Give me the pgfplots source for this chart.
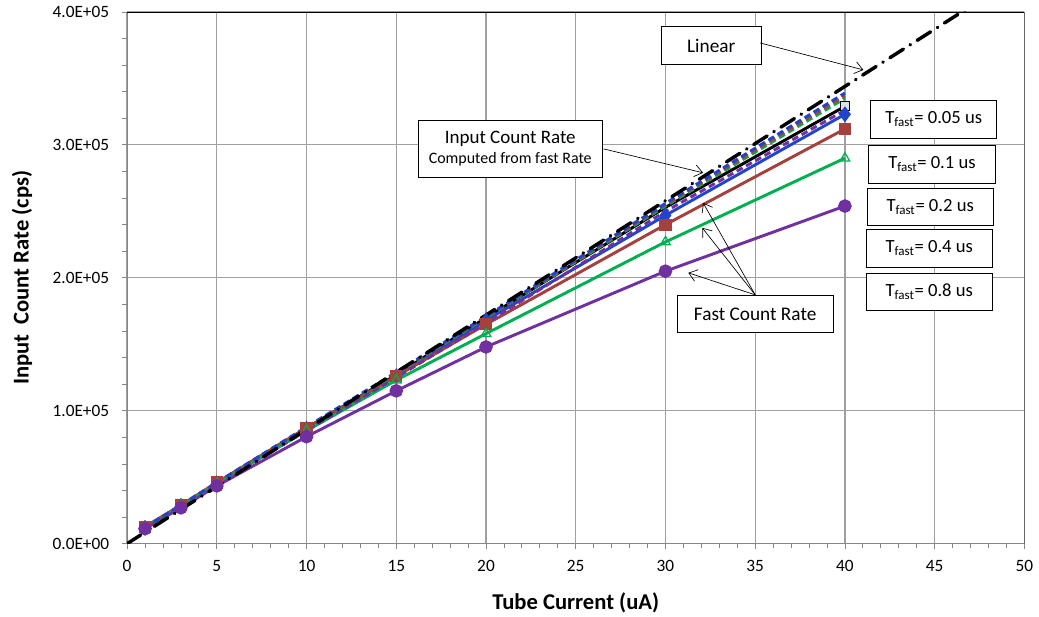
\documentclass[border=0pt]{standalone}
\usepackage{pgfplots}
\pgfplotsset{compat=1.18}
\usepackage{fontspec}
\setmainfont{Carlito}
\usetikzlibrary{arrows.meta}
\definecolor{cblue}{RGB}{34,68,204}
\definecolor{cbrown}{RGB}{165,65,60}
\definecolor{cgreen}{RGB}{0,176,80}
\definecolor{cpurple}{RGB}{112,48,160}
\definecolor{axgray}{RGB}{134,134,134}
\definecolor{grdgray}{RGB}{160,160,160}
\begin{document}
\begin{tikzpicture}
\begin{axis}[
  scale only axis, width=675pt, height=400pt,
  xmin=0, xmax=50, ymin=0, ymax=400000,
  axis lines*=left,
  axis line style={axgray, line width=0.8pt},
  xtick={0,5,...,50},
  xticklabels={0,5,10,15,20,25,30,35,40,45,50},
  ytick={0,100000,200000,300000,400000},
  yticklabels={0.0E+00,1.0E+05,2.0E+05,3.0E+05,4.0E+05},
  scaled y ticks=false,
  minor x tick num=4, minor y tick num=4,
  tick align=outside,
  major tick length=4pt, minor tick length=3.5pt,
  every tick/.style={axgray, line width=0.6pt},
  grid=major,
  major grid style={grdgray, line width=0.9pt},
  tick label style={font=\fontsize{13}{15}\selectfont, text=black},
  xticklabel style={yshift=-5pt},
  yticklabel style={xshift=-6pt},
]
% frame top and right
\draw[black, line width=0.6pt] (rel axis cs:0,1) -- (rel axis cs:1,1) -- (rel axis cs:1,0);

% Fast count rates (solid)
\addplot[black, line width=2.2pt, mark=square*, mark size=3.3pt, mark indices={8},
  mark options={fill=gray!25, draw=black, line width=0.8pt}] coordinates {
  (1,12000) (3,28500) (5,45500) (10,87000) (15,127000) (20,170000) (30,253000) (40,329000)};
\addplot[cblue, line width=2.2pt, mark=diamond*, mark size=4.2pt] coordinates {
  (1,12000) (3,28500) (5,45500) (10,86500) (15,126000) (20,168000) (30,247000) (40,323000)};
\addplot[cbrown, line width=2.2pt, mark=square*, mark size=3.5pt] coordinates {
  (1,12800) (3,29000) (5,46000) (10,87200) (15,126000) (20,165000) (30,240000) (40,312000)};
\addplot[cgreen, line width=2.2pt, mark=triangle, mark size=4.2pt,
  mark options={fill=white, line width=0.9pt}] coordinates {
  (1,11500) (3,28000) (5,45000) (10,85000) (15,123000) (20,158000) (30,227000) (40,290000)};
\addplot[cpurple, line width=2.2pt, mark=*, mark size=4pt] coordinates {
  (1,11300) (3,27000) (5,43500) (10,80500) (15,115000) (20,148000) (30,205000) (40,254000)};

% Input count rate computed from fast rate (dashed)
\addplot[cpurple, line width=2.2pt, dash pattern=on 5pt off 3pt] coordinates {
  (1,11500) (3,28000) (5,45000) (10,85000) (15,125000) (20,166000) (30,250000) (40,326000)};
\addplot[cgreen, line width=2.2pt, dash pattern=on 5pt off 3pt] coordinates {
  (1,12000) (3,28500) (5,45500) (10,87000) (15,128000) (20,170000) (30,254000) (40,335000)};
\addplot[cbrown, line width=2.2pt, dash pattern=on 5pt off 3pt] coordinates {
  (1,12500) (3,29000) (5,46000) (10,87500) (15,128500) (20,170500) (30,255000) (40,337000)};
\addplot[cblue, line width=2.2pt, dash pattern=on 5pt off 3pt] coordinates {
  (1,12200) (3,29000) (5,46000) (10,87800) (15,129000) (20,171000) (30,256000) (40,339000)};

% Linear
\addplot[black, line width=2.6pt, line cap=round, dash pattern=on 12pt off 6pt on 0.3pt off 6pt] coordinates {
  (0,0) (50,430000)};

% Annotations
\node[draw=black, fill=white, line width=0.6pt, minimum width=75pt, minimum height=28pt,
  font=\fontsize{14.5}{17}\selectfont] at (axis cs:32.55,374800) {Linear};
\draw[line width=0.5pt, -{Straight Barb[length=6pt,width=9pt]}] (axis cs:35.28,376700) -- (axis cs:41.03,356400);

\node[draw=black, fill=white, line width=0.6pt, minimum width=138pt, minimum height=43.5pt,
  align=center, font=\fontsize{14.3}{16}\selectfont] at (axis cs:21.35,297000)
  {Input Count Rate\\[-1pt]{\fontsize{12}{14}\selectfont Computed from fast Rate}};
\draw[line width=0.5pt, -{Straight Barb[length=6pt,width=9pt]}] (axis cs:26.55,297000) -- (axis cs:32.1,279000);

\node[draw=black, fill=white, line width=0.6pt, minimum width=117pt, minimum height=28pt,
  font=\fontsize{14.5}{17}\selectfont] at (axis cs:35.0,172600) {Fast Count Rate};
\draw[line width=0.5pt, -{Straight Barb[length=6pt,width=9pt]}] (axis cs:35.0,187200) -- (axis cs:32.1,256400);
\draw[line width=0.5pt, -{Straight Barb[length=6pt,width=9pt]}] (axis cs:35.0,187200) -- (axis cs:32.05,237600);
\draw[line width=0.5pt, -{Straight Barb[length=6pt,width=9pt]}] (axis cs:35.0,187200) -- (axis cs:31.27,203800);

\tikzset{tbox/.style={draw=black, fill=white, line width=0.6pt, minimum width=95pt,
  minimum height=28pt, font=\fontsize{14}{16}\selectfont}}
\node[tbox] at (axis cs:44.95,319200) {T\textsubscript{fast}= 0.05 us};
\node[tbox] at (axis cs:44.85,285300) {T\textsubscript{fast}= 0.1 us};
\node[tbox] at (axis cs:44.75,253400) {T\textsubscript{fast}= 0.2 us};
\node[tbox] at (axis cs:44.7,222200) {T\textsubscript{fast}= 0.4 us};
\node[tbox] at (axis cs:44.7,189500) {T\textsubscript{fast}= 0.8 us};
\end{axis}
\node[font=\bfseries\fontsize{17}{20}\selectfont, rotate=90] at ([xshift=-79pt]current axis.west) {Input\ \ Count Rate (cps)};
\node[font=\bfseries\fontsize{17}{20}\selectfont] at ([yshift=-44.4pt]current axis.south) {Tube Current (uA)};
\pgfresetboundingbox
\path ([xshift=-95.6pt,yshift=-55pt]current axis.south west) rectangle ([xshift=11pt,yshift=9pt]current axis.north east);
\end{tikzpicture}
\end{document}
